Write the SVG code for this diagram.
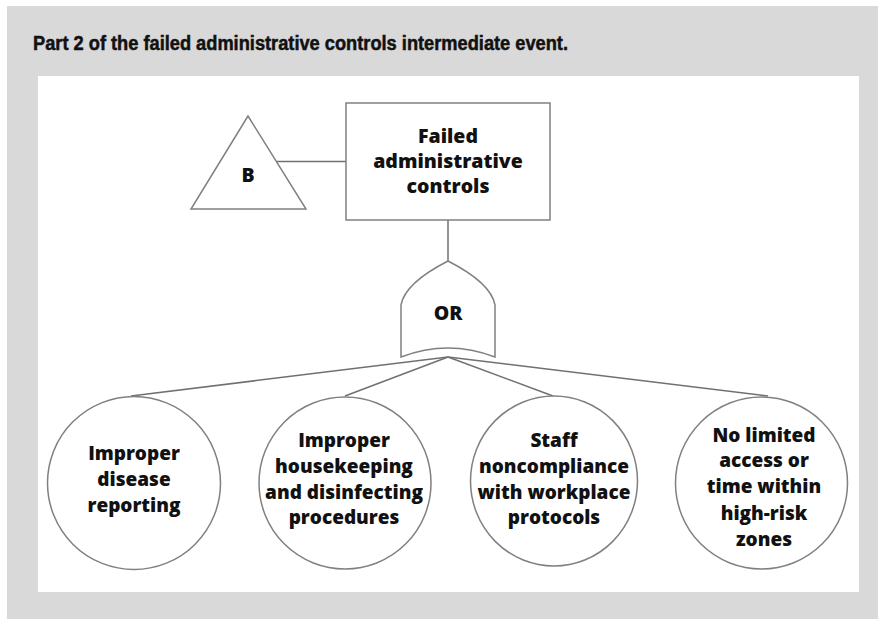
<svg xmlns="http://www.w3.org/2000/svg" width="878" height="619" viewBox="0 0 878 619">
  <style>
    .shape { fill: #ffffff; stroke: #808080; stroke-width: 1.5; }
    .wire { fill: none; stroke: #707070; stroke-width: 1.5; }
    .lbl { font-family: "Open Sans", "Liberation Sans", sans-serif; font-weight: 800; fill: #111111; text-anchor: middle; }
    .node { font-size: 19px; }
    .title { font-family: "Liberation Sans", "DejaVu Sans", sans-serif; font-weight: 700; font-size: 20px; fill: #111111; stroke: #111111; stroke-width: 0.5; }
  </style>

  <!-- frame -->
  <rect x="7" y="6" width="871" height="613" fill="#d9d9d9"/>
  <rect x="38" y="76" width="821" height="516" fill="#ffffff"/>
  <text class="title" x="33" y="50" textLength="535" lengthAdjust="spacingAndGlyphs">Part 2 of the failed administrative controls intermediate event.</text>

  <!-- connectors -->
  <g id="connectors">
    <line class="wire" x1="277" y1="161.5" x2="346" y2="161.5"/>
    <line class="wire" x1="448" y1="220" x2="448" y2="261"/>
    <line class="wire" x1="448" y1="357" x2="131" y2="396"/>
    <line class="wire" x1="448" y1="357" x2="345" y2="396"/>
    <line class="wire" x1="448" y1="357" x2="553" y2="396"/>
    <line class="wire" x1="448" y1="357" x2="768" y2="396"/>
  </g>

  <!-- transfer triangle B -->
  <g id="transfer-b">
    <polygon class="shape" points="248,116 191,209 306,209"/>
    <text class="lbl" x="248" y="182" font-size="19.5">B</text>
  </g>

  <!-- top event -->
  <g id="top-event">
    <rect class="shape" x="346" y="103" width="204" height="117"/>
    <text class="lbl" x="448" y="143" font-size="19.5">Failed</text>
    <text class="lbl" x="448" y="168" font-size="19.5">administrative</text>
    <text class="lbl" x="448" y="193" font-size="19.5">controls</text>
  </g>

  <!-- OR gate -->
  <g id="or-gate">
    <path class="shape" d="M401,357 L401,305 Q405,283 448,261 Q491,283 495,305 L495,357 Q448,339 401,357 Z"/>
    <text class="lbl" x="448" y="320" font-size="19.5">OR</text>
  </g>

  <!-- basic events -->
  <g id="event-disease-reporting">
    <circle class="shape" cx="134" cy="483" r="86.5"/>
    <text class="lbl node" x="134" y="460">Improper</text>
    <text class="lbl node" x="134" y="486">disease</text>
    <text class="lbl node" x="134" y="512">reporting</text>
  </g>

  <g id="event-housekeeping">
    <circle class="shape" cx="345" cy="483" r="86"/>
    <text class="lbl node" x="344" y="447">Improper</text>
    <text class="lbl node" x="344" y="473">housekeeping</text>
    <text class="lbl node" x="344" y="499">and disinfecting</text>
    <text class="lbl node" x="344" y="524">procedures</text>
  </g>

  <g id="event-staff-noncompliance">
    <ellipse class="shape" cx="554" cy="481" rx="83.5" ry="85"/>
    <text class="lbl node" x="554" y="447">Staff</text>
    <text class="lbl node" x="554" y="473">noncompliance</text>
    <text class="lbl node" x="554" y="499">with workplace</text>
    <text class="lbl node" x="554" y="524">protocols</text>
  </g>

  <g id="event-limited-access">
    <circle class="shape" cx="761.5" cy="483" r="86"/>
    <text class="lbl node" x="764" y="442">No limited</text>
    <text class="lbl node" x="764" y="467">access or</text>
    <text class="lbl node" x="764" y="493">time within</text>
    <text class="lbl node" x="764" y="520">high-risk</text>
    <text class="lbl node" x="764" y="546">zones</text>
  </g>
</svg>
